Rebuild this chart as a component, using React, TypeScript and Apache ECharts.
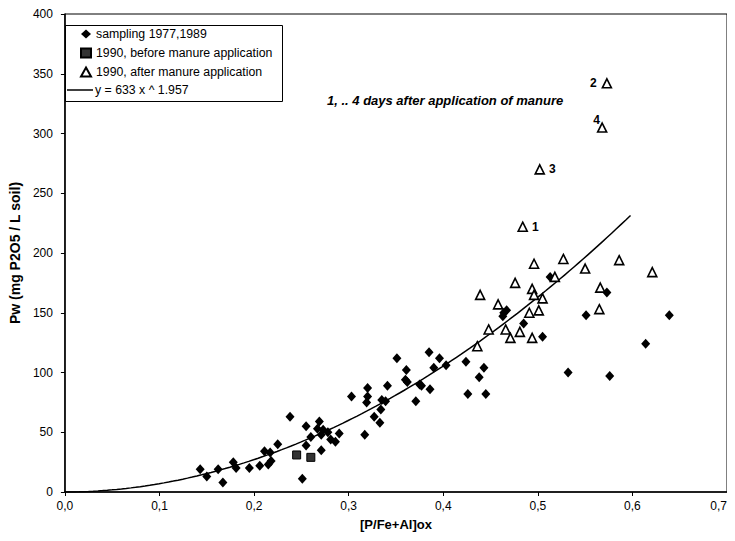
import React, { useEffect, useRef } from 'react';
import * as echarts from 'echarts';

// sampling 1977,1989  [P/Fe+Al]ox, Pw
const sampling19771989: [number, number][] = [
  [0.143, 19], [0.150, 13], [0.162, 19], [0.167, 8], [0.178, 25], [0.181, 20], [0.195, 20],
  [0.206, 22], [0.215, 23], [0.211, 34], [0.217, 33], [0.218, 26], [0.225, 40], [0.238, 63],
  [0.251, 11], [0.255, 39], [0.255, 55], [0.260, 46], [0.269, 59], [0.267, 53], [0.271, 48],
  [0.273, 52], [0.278, 50], [0.281, 44], [0.271, 35], [0.286, 42], [0.290, 49], [0.303, 80],
  [0.317, 48], [0.320, 87], [0.320, 80], [0.319, 75], [0.327, 63], [0.333, 58], [0.334, 69],
  [0.335, 77], [0.339, 76], [0.341, 89], [0.351, 112], [0.361, 102], [0.360, 94], [0.362, 92],
  [0.371, 76], [0.375, 90], [0.377, 89], [0.386, 86], [0.385, 117], [0.396, 112], [0.390, 104],
  [0.403, 106], [0.424, 109], [0.426, 82], [0.438, 96], [0.443, 104], [0.445, 82], [0.464, 150],
  [0.467, 152], [0.463, 147], [0.485, 141], [0.505, 130], [0.513, 180], [0.532, 100], [0.551, 148],
  [0.573, 167], [0.576, 97], [0.614, 124], [0.639, 148],
];

// 1990, before manure application
const beforeManure: [number, number][] = [[0.245, 31], [0.260, 29]];

// 1990, after manure application
const afterManure: [number, number][] = [
  [0.496, 191], [0.527, 195], [0.550, 187], [0.586, 194], [0.621, 184], [0.476, 175],
  [0.494, 170], [0.496, 165], [0.505, 162], [0.518, 180], [0.439, 165], [0.458, 157],
  [0.491, 150], [0.501, 152], [0.448, 136], [0.466, 136], [0.471, 129], [0.481, 134],
  [0.494, 129], [0.436, 122], [0.566, 171], [0.565, 153],
];

// labelled points: days after application of manure
const dayLabels = ['1', '2', '3', '4'];
const dayPoints: [number, number][] = [[0.484, 222], [0.573, 342], [0.502, 270], [0.568, 305]];

// fitted curve y = a x ^ b
const fitA = 633;
const fitB = 1.957;
const fitXMax = 0.598;

const xTicks = [0, 0.1, 0.2, 0.3, 0.4, 0.5, 0.6, 0.7];
const yTicks = [0, 50, 100, 150, 200, 250, 300, 350, 400];

const seriesNames = [
  'sampling 1977,1989',
  '1990, before manure application',
  '1990, after manure application',
  'y = 633 x ^ 1.957',
];

const FONT = 'Arial, "Liberation Sans", sans-serif';

export default function App() {
  const ref = useRef<HTMLDivElement>(null);
  useEffect(() => {
    if (!ref.current) return;
    const chart = echarts.init(ref.current, undefined, { renderer: 'svg' });

    const fit: [number, number][] = [];
    const steps = 120;
    for (let i = 0; i <= steps; i++) {
      const x = (fitXMax * i) / steps;
      fit.push([x, fitA * Math.pow(x, fitB)]);
    }

    const labelPos: any[] = [
      { position: 'right', distance: 4 },
      { position: 'left', distance: 5 },
      { position: 'right', distance: 4 },
      { position: 'left', distance: 0, offset: [3, -8] },
    ];

    const dayData = dayPoints.map((p, i) => ({
      value: p,
      label: {
        show: true,
        formatter: dayLabels[i],
        fontFamily: FONT,
        fontSize: 12,
        fontWeight: 'bold',
        color: '#000',
        ...labelPos[i],
      },
    }));

    const option: any = {
      animation: false,
      backgroundColor: '#fff',
      grid: {
        left: 64,
        right: 8,
        top: 14,
        bottom: 49,
        show: true,
        borderColor: '#000',
        borderWidth: 1,
        containLabel: false,
      },
      legend: [
        {
          orient: 'vertical',
          left: 80,
          top: 27,
          itemWidth: 10,
          itemHeight: 9,
          itemGap: 5,
          padding: 0,
          data: [
            { name: seriesNames[0], icon: 'diamond' },
            { name: seriesNames[1], icon: 'rect' },
            { name: seriesNames[2], icon: 'triangle' },
          ],
          textStyle: { fontFamily: FONT, fontSize: 12.3, color: '#000', lineHeight: 14 },
          selectedMode: false,
        },
        {
          orient: 'vertical',
          left: 67,
          top: 83,
          itemWidth: 26,
          itemHeight: 1.5,
          padding: 0,
          data: [{ name: seriesNames[3], icon: 'rect' }],
          textStyle: { fontFamily: FONT, fontSize: 12.3, color: '#000', lineHeight: 14, padding: [0, 0, 0, -3] },
          selectedMode: false,
        },
      ],
      graphic: [
        {
          type: 'rect',
          z: -1,
          shape: { x: 65.5, y: 25.5, width: 217, height: 76 },
          style: { fill: '#fff', stroke: '#000', lineWidth: 1 },
        },
        {
          type: 'text',
          left: 327,
          top: 94,
          style: {
            text: '1, .. 4 days after application of manure',
            font: `italic bold 13px ${FONT}`,
            fill: '#000',
          },
        },
      ],
      xAxis: {
        type: 'value',
        min: xTicks[0],
        max: xTicks[xTicks.length - 1],
        interval: 0.1,
        name: '[P/Fe+Al]ox',
        nameLocation: 'middle',
        nameGap: 26,
        nameTextStyle: { fontFamily: FONT, fontSize: 13, fontWeight: 'bold', color: '#000' },
        axisLine: { show: true, lineStyle: { color: '#000', width: 1.5 } },
        axisTick: { show: true, length: 4, lineStyle: { color: '#000' } },
        axisLabel: {
          fontFamily: FONT,
          fontSize: 12,
          color: '#000',
          margin: 8,
          alignMaxLabel: 'right',
          formatter: (v: number) => v.toFixed(1).replace('.', ','),
        },
        splitLine: { show: false },
      },
      yAxis: {
        type: 'value',
        min: yTicks[0],
        max: yTicks[yTicks.length - 1],
        interval: 50,
        name: 'Pw (mg P2O5 / L soil)',
        nameLocation: 'middle',
        nameGap: 41,
        nameRotate: 90,
        nameTextStyle: { fontFamily: FONT, fontSize: 14, fontWeight: 'bold', color: '#000' },
        axisLine: { show: true, lineStyle: { color: '#000', width: 1.5 } },
        axisTick: { show: true, length: 4, lineStyle: { color: '#000' } },
        axisLabel: { fontFamily: FONT, fontSize: 12, color: '#000', margin: 12 },
        splitLine: { show: false },
      },
      series: [
        {
          name: seriesNames[0],
          type: 'scatter',
          symbol: 'diamond',
          symbolSize: [9, 10],
          itemStyle: { color: '#000', opacity: 1 },
          data: sampling19771989,
          z: 3,
        },
        {
          name: seriesNames[1],
          type: 'scatter',
          symbol: 'rect',
          symbolSize: 8,
          itemStyle: { color: '#333', borderColor: '#000', borderWidth: 1, opacity: 1 },
          data: beforeManure,
          z: 3,
        },
        {
          name: seriesNames[2],
          type: 'scatter',
          symbol: 'triangle',
          symbolSize: [9, 9],
          itemStyle: { color: '#fff', borderColor: '#000', borderWidth: 1.6, opacity: 1 },
          data: [...afterManure, ...dayData],
          z: 4,
        },
        {
          name: seriesNames[3],
          type: 'line',
          showSymbol: false,
          symbol: 'none',
          smooth: false,
          lineStyle: { color: '#000', width: 1.5 },
          itemStyle: { color: '#000' },
          data: fit,
          z: 2,
        },
      ],
    };
    chart.setOption(option);
    return () => chart.dispose();
  }, []);

  return <div ref={ref} style={{ width: 735, height: 541, margin: -8 }} />;
}
